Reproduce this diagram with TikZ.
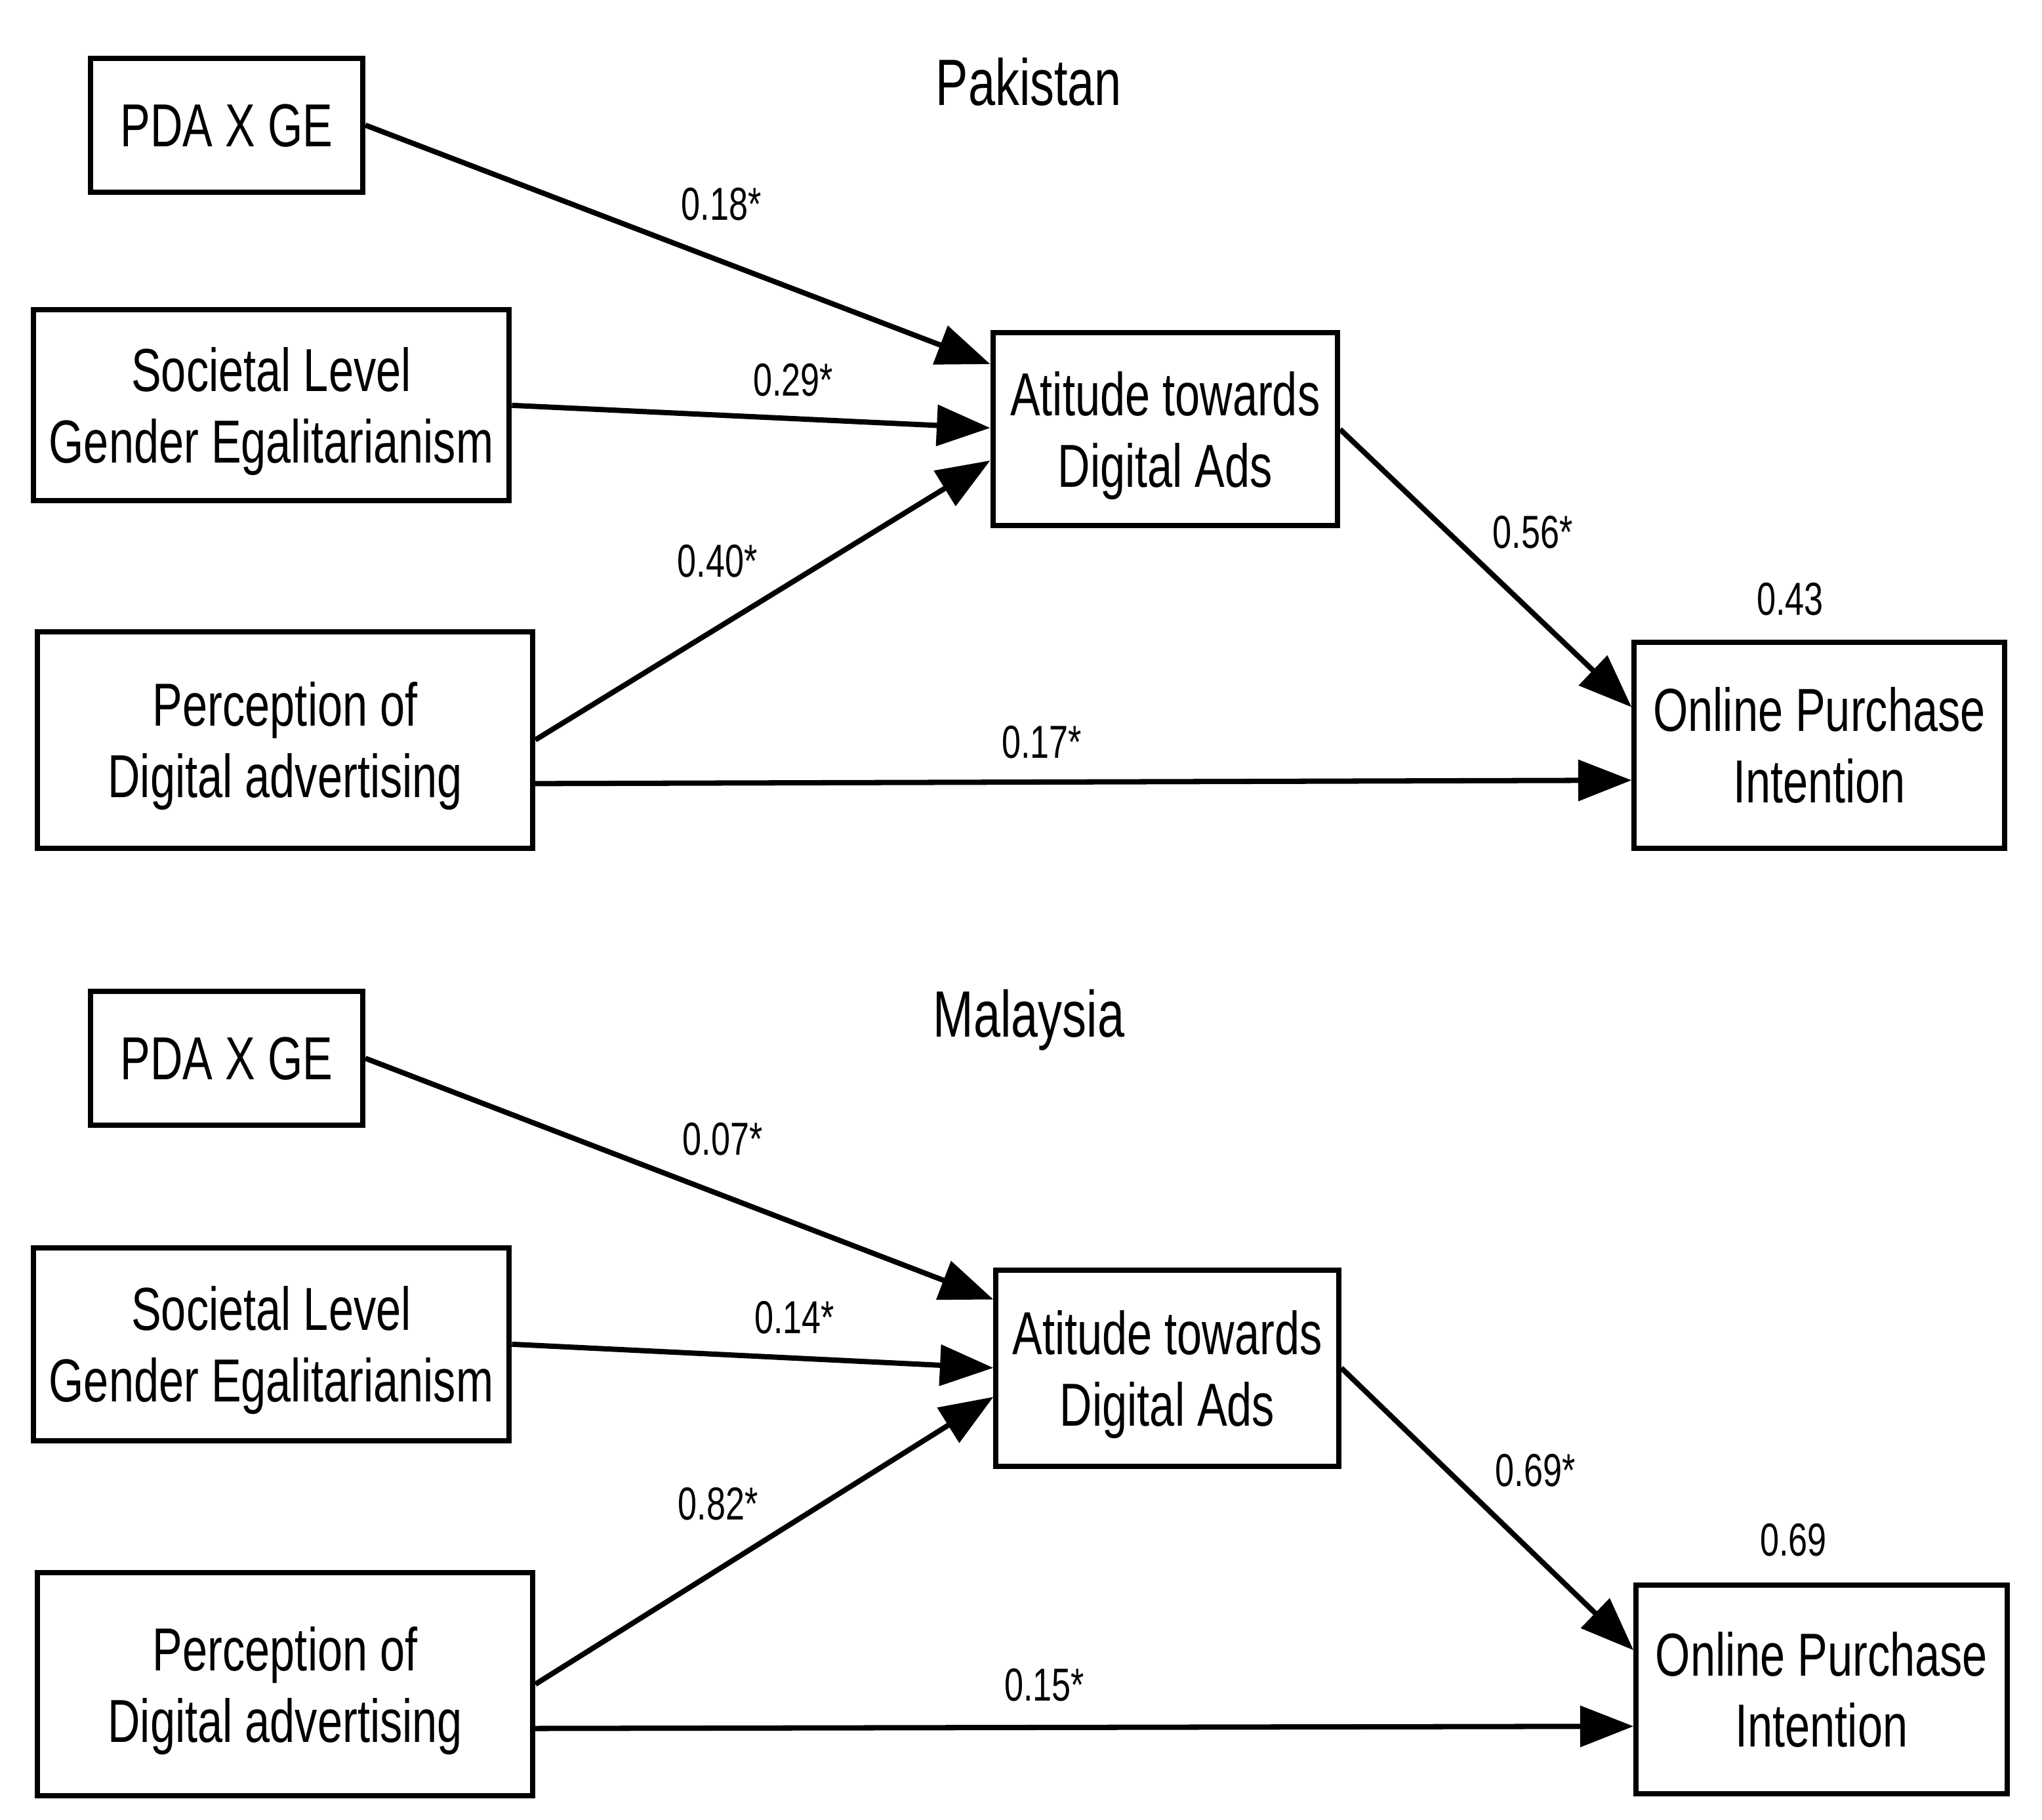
\documentclass[tikz,border=0pt]{standalone}
\usepackage{fontspec}
\setmainfont{Liberation Sans}[FakeStretch=0.74]
\usetikzlibrary{arrows.meta,calc}
\begin{document}
\begin{tikzpicture}[x=0.01cm,y=-0.01cm,
  box/.style={draw, line width=1.15pt, rectangle, fill=white, inner sep=0pt, align=center,
    text depth=0pt, font=\fontsize{13.26pt}{15.6pt}\selectfont},
  lab/.style={inner sep=0pt, anchor=base, font=\fontsize{10.1pt}{12pt}\selectfont},
  ttl/.style={inner sep=0pt, anchor=base, font=\fontsize{14.3pt}{17pt}\selectfont},
  arr/.style={line width=1.15pt, -{Triangle[length=0.41cm,width=0.31cm]}}]
\useasboundingbox (0,0) rectangle (1568,1397.25);

% ---------- Pakistan ----------
\node[ttl] (t1) at (790,81) {Pakistan};
\node[box, minimum width=2.09cm, minimum height=1.026cm] (pda1) at (174,96.1) {PDA X GE};
\node[box, minimum width=3.653cm, minimum height=1.465cm] (soc1) at (208.3,311.2) {Societal Level\\Gender Egalitarianism};
\node[box, minimum width=3.80cm, minimum height=1.66cm] (per1) at (219,568) {Perception of\\Digital advertising};
\node[box, minimum width=2.645cm, minimum height=1.48cm] (att1) at (894.7,329.6) {Atitude towards\\Digital Ads};
\node[box, minimum width=2.84cm, minimum height=1.58cm] (onl1) at (1397,572) {Online Purchase\\Intention};

\draw[arr] (pda1.east) -- ($(att1.north west)+(0,26)$);
\draw[arr] (soc1.east) -- ($(att1.north west)+(0,75)$);
\draw[arr] (per1.east) -- ($(att1.north west)+(0,100)$);
\draw[arr] ($(per1.east)+(0,33.6)$) -- ($(onl1.west)+(0,27)$);
\draw[arr] (att1.east) -- ($(onl1.north west)+(0,52)$);

\node[lab] (a1) at (554,169) {0.18*};
\node[lab] (b1) at (609,304) {0.29*};
\node[lab] (c1) at (551,443) {0.40*};
\node[lab] (d1) at (1177,421) {0.56*};
\node[lab] (e1) at (1374.5,472.4) {0.43};
\node[lab] (f1) at (800,581.8) {0.17*};

% ---------- Malaysia ----------
\node[ttl] (t2) at (790,796) {Malaysia};
\node[box, minimum width=2.09cm, minimum height=1.03cm] (pda2) at (174,812.5) {PDA X GE};
\node[box, minimum width=3.653cm, minimum height=1.48cm] (soc2) at (208.3,1032) {Societal Level\\Gender Egalitarianism};
\node[box, minimum width=3.80cm, minimum height=1.71cm] (per2) at (219,1293) {Perception of\\Digital advertising};
\node[box, minimum width=2.63cm, minimum height=1.505cm] (att2) at (896.4,1050.25) {Atitude towards\\Digital Ads};
\node[box, minimum width=2.845cm, minimum height=1.60cm] (onl2) at (1398.75,1297) {Online Purchase\\Intention};

\draw[arr] (pda2.east) -- ($(att2.north west)+(0,24.7)$);
\draw[arr] (soc2.east) -- ($(att2.north west)+(0,77.2)$);
\draw[arr] (per2.east) -- ($(att2.north west)+(0,99.5)$);
\draw[arr] ($(per2.east)+(0,34)$) -- ($(onl2.west)+(0,28.3)$);
\draw[arr] (att2.east) -- ($(onl2.north west)+(0,52)$);

\node[lab] (a2) at (555,887) {0.07*};
\node[lab] (b2) at (610,1024) {0.14*};
\node[lab] (c2) at (551.5,1167) {0.82*};
\node[lab] (d2) at (1179,1141) {0.69*};
\node[lab] (e2) at (1377,1194.7) {0.69};
\node[lab] (f2) at (802,1306) {0.15*};
\end{tikzpicture}
\end{document}
